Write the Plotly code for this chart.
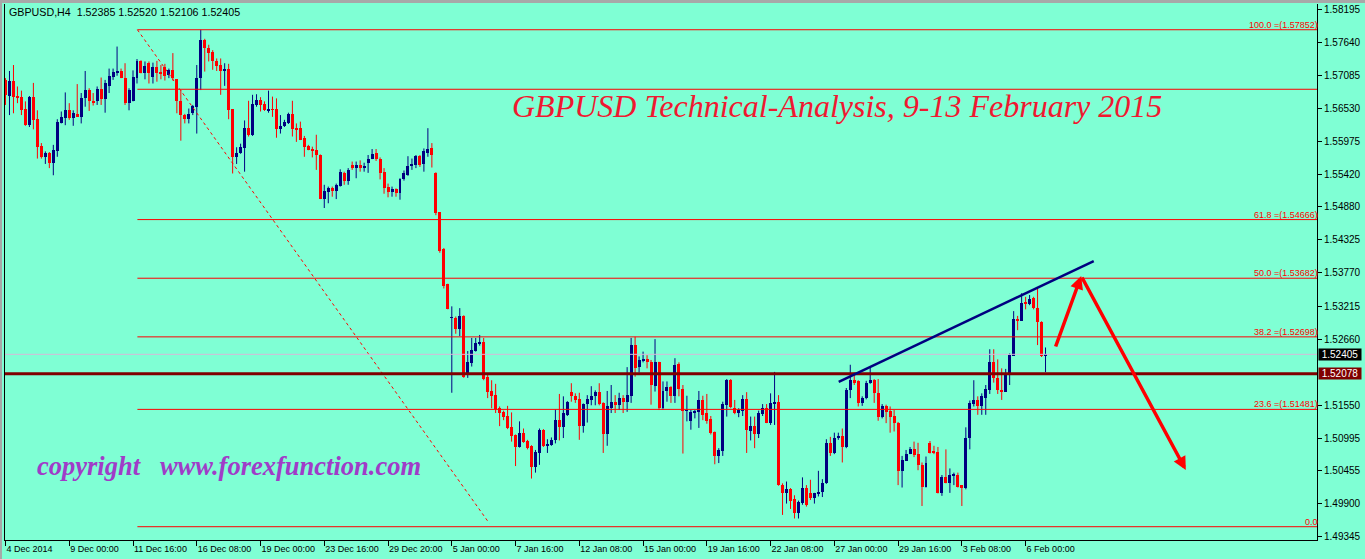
import plotly.graph_objects as go

# ---------------- data (GBPUSD H4) ----------------
opens = [1.5701,1.5674,1.5699,1.5674,1.5673,1.5652,1.5625,1.5673,1.5635,1.5590,
1.5571,1.5579,1.5562,1.5582,1.5629,1.5637,1.5650,1.5637,1.5644,1.5639,
1.5670,1.5684,1.5666,1.5665,1.5685,1.5669,1.5691,1.5706,1.5713,1.5716,
1.5705,1.5663,1.5666,1.5705,1.5732,1.5713,1.5729,1.5706,1.5723,1.5715,
1.5723,1.5709,1.5718,1.5702,1.5666,1.5642,1.5635,1.5645,1.5656,1.5704,
1.5768,1.5755,1.5748,1.5733,1.5726,1.5716,1.5719,1.5652,1.5572,1.5578,
1.5587,1.5620,1.5609,1.5659,1.5667,1.5660,1.5650,1.5652,1.5652,1.5618,
1.5624,1.5628,1.5644,1.5620,1.5620,1.5603,1.5590,1.5585,1.5583,1.5575,
1.5502,1.5513,1.5520,1.5515,1.5523,1.5544,1.5532,1.5558,1.5553,1.5558,
1.5553,1.5562,1.5569,1.5578,1.5569,1.5547,1.5522,1.5513,1.5518,1.5511,
1.5534,1.5542,1.5557,1.5558,1.5573,1.5560,1.5578,1.5586,1.5545,1.5479,
1.5417,1.5359,1.5302,1.5302,1.5283,1.5305,1.5206,1.5226,1.5246,1.5258,
1.5262,1.5203,1.5179,1.5172,1.5150,1.5144,1.5137,1.5119,1.5105,1.5085,
1.5109,1.5095,1.5086,1.5052,1.5075,1.5114,1.5087,1.5088,1.5096,1.5130,
1.5119,1.5139,1.5177,1.5171,1.5165,1.5120,1.5157,1.5164,1.5170,1.5178,
1.5159,1.5106,1.5150,1.5161,1.5156,1.5167,1.5161,1.5171,1.5256,1.5220,
1.5230,1.5232,1.5228,1.5188,1.5227,1.5151,1.5179,1.5185,1.5170,1.5224,
1.5182,1.5146,1.5129,1.5143,1.5143,1.5164,1.5142,1.5132,1.5110,1.5070,
1.5079,1.5156,1.5197,1.5150,1.5142,1.5146,1.5165,1.5112,1.5120,1.5107,
1.5141,1.5150,1.5126,1.5157,1.5160,1.5022,1.5007,1.5015,1.4997,1.4975,
1.4991,1.5016,1.5007,1.4999,1.5006,1.5010,1.5024,1.5092,1.5075,1.5100,
1.5104,1.5085,1.5181,1.5197,1.5196,1.5158,1.5167,1.5192,1.5197,1.5175,
1.5136,1.5154,1.5146,1.5137,1.5126,1.5045,1.5062,1.5073,1.5081,1.5073,
1.5055,1.5018,1.5092,1.5077,1.5077,1.5008,1.5035,1.5025,1.5037,1.5038,
1.5021,1.5016,1.5100,1.5157,1.5164,1.5153,1.5168,1.5181,1.5227,1.5200,
1.5181,1.5178,1.5205,1.5238,1.5299,1.5297,1.5327,1.5325,1.5335,1.5319,
1.5295,1.52385]
highs = [1.5704,1.5716,1.5726,1.5690,1.5683,1.5665,1.5674,1.5696,1.5650,1.5595,
1.5581,1.5580,1.5592,1.5635,1.5648,1.5680,1.5662,1.5650,1.5694,1.5679,
1.5716,1.5687,1.5679,1.5690,1.5705,1.5701,1.5720,1.5720,1.5757,1.5720,
1.5729,1.5687,1.5717,1.5736,1.5734,1.5732,1.5732,1.5730,1.5733,1.5726,
1.5728,1.5720,1.5746,1.5702,1.5684,1.5644,1.5653,1.5659,1.5726,1.57852,
1.5770,1.5760,1.5751,1.5737,1.5737,1.5729,1.5728,1.5652,1.5588,1.5594,
1.5633,1.5666,1.5676,1.5677,1.5672,1.5665,1.5683,1.5673,1.5670,1.5642,
1.5634,1.5646,1.5666,1.5628,1.5631,1.5607,1.5592,1.5589,1.5609,1.5576,
1.5525,1.5522,1.5522,1.5527,1.5551,1.5547,1.5553,1.5564,1.5564,1.5566,
1.5562,1.5575,1.5585,1.5585,1.5571,1.5553,1.5527,1.5522,1.5519,1.5536,
1.5549,1.5573,1.5569,1.5575,1.5575,1.5586,1.5620,1.5595,1.5546,1.5479,
1.5419,1.5359,1.5321,1.5304,1.5318,1.5306,1.5246,1.5268,1.5268,1.5273,
1.5268,1.5209,1.5197,1.5191,1.5153,1.5146,1.5154,1.5143,1.5106,1.5128,
1.5116,1.5097,1.5088,1.5080,1.5116,1.5115,1.5098,1.5101,1.5148,1.5174,
1.5170,1.5162,1.5192,1.5175,1.5176,1.5158,1.5172,1.5187,1.5180,1.5192,
1.5160,1.5179,1.5189,1.5172,1.5176,1.5172,1.5219,1.5268,1.5270,1.5237,
1.5245,1.5239,1.5231,1.5266,1.5228,1.5195,1.5195,1.5187,1.5234,1.5227,
1.5189,1.5171,1.5147,1.5147,1.5179,1.5171,1.5174,1.5137,1.5111,1.5083,
1.5161,1.5199,1.5199,1.5164,1.5150,1.5172,1.5177,1.5136,1.5136,1.5146,
1.5157,1.5157,1.5175,1.5211,1.5172,1.5024,1.5027,1.5016,1.5004,1.4995,
1.5034,1.5021,1.5030,1.5008,1.5045,1.5031,1.5098,1.5102,1.5109,1.5109,
1.5116,1.5184,1.5223,1.5210,1.5197,1.5170,1.5196,1.5219,1.5199,1.5199,
1.5157,1.5156,1.5153,1.5147,1.5127,1.5070,1.5080,1.5085,1.5094,1.5092,
1.5059,1.5069,1.5095,1.5087,1.5085,1.5038,1.5081,1.5049,1.5042,1.5042,
1.5021,1.5118,1.5163,1.5197,1.5170,1.5175,1.5189,1.5249,1.5249,1.5232,
1.5217,1.5216,1.5242,1.5313,1.5305,1.5343,1.5337,1.5340,1.5337,1.5353,
1.5296,1.52520]
lows = [1.5659,1.5642,1.5645,1.5662,1.5642,1.5624,1.5622,1.5618,1.5569,1.5569,
1.5560,1.5553,1.5541,1.5572,1.5628,1.5625,1.5634,1.5624,1.5639,1.5628,
1.5656,1.5649,1.5658,1.5659,1.5659,1.5646,1.5679,1.5701,1.5708,1.5704,
1.5659,1.5650,1.5665,1.5695,1.5712,1.5702,1.5695,1.5695,1.5698,1.5702,
1.5700,1.5704,1.5700,1.5645,1.5599,1.5628,1.5628,1.5642,1.5611,1.5684,
1.5715,1.5732,1.5718,1.5716,1.5676,1.5691,1.5635,1.5544,1.5560,1.5577,
1.5547,1.5606,1.5607,1.5656,1.5648,1.5649,1.5646,1.5639,1.5604,1.5611,
1.5622,1.5627,1.5606,1.5597,1.5600,1.5572,1.5583,1.5571,1.5550,1.5501,
1.5486,1.5494,1.5505,1.5501,1.5522,1.5525,1.5525,1.5550,1.5536,1.5547,
1.5547,1.5545,1.5568,1.5565,1.5534,1.5510,1.5504,1.5505,1.5505,1.5500,
1.5532,1.5540,1.5550,1.5553,1.5555,1.5547,1.5572,1.5554,1.5474,1.5411,
1.5351,1.5316,1.5176,1.5275,1.5271,1.5201,1.5201,1.5220,1.5245,1.5255,
1.5197,1.5167,1.5150,1.5142,1.5120,1.5130,1.5115,1.5094,1.5053,1.5084,
1.5092,1.5081,1.5032,1.5042,1.5055,1.5085,1.5075,1.5087,1.5091,1.5096,
1.5100,1.5137,1.5161,1.5159,1.5097,1.5109,1.5126,1.5155,1.5155,1.5155,
1.5075,1.5087,1.5142,1.5142,1.5147,1.5142,1.5144,1.5159,1.5203,1.5210,
1.5227,1.5217,1.5156,1.5178,1.5147,1.5148,1.5161,1.5159,1.5159,1.5170,
1.5074,1.5128,1.5114,1.5133,1.5117,1.5130,1.5124,1.5106,1.5056,1.5058,
1.5070,1.5136,1.5150,1.5140,1.5135,1.5137,1.5075,1.5096,1.5083,1.5100,
1.5137,1.5125,1.5122,1.5122,1.5020,1.4971,1.4990,1.4981,1.4965,1.4965,
1.4988,1.4985,1.4996,1.4990,1.5002,1.5001,1.5023,1.5070,1.5073,1.5097,
1.5059,1.5083,1.5167,1.5189,1.5153,1.5154,1.5165,1.5191,1.5159,1.5129,
1.5133,1.5125,1.5109,1.5111,1.5021,1.5017,1.5062,1.5073,1.5068,1.5046,
1.4986,1.5017,1.5074,1.5073,1.5007,1.5003,1.5024,1.5008,1.5021,1.5017,
1.4986,1.5014,1.5081,1.5153,1.5139,1.5139,1.5139,1.5174,1.5193,1.5174,
1.5164,1.5178,1.5189,1.5238,1.5281,1.5297,1.5316,1.5323,1.5316,1.5256,
1.5236,1.52106]
closes = [1.5676,1.5699,1.5673,1.5672,1.5650,1.5625,1.5673,1.5634,1.5589,1.5572,
1.5579,1.5562,1.5583,1.5631,1.5638,1.5650,1.5637,1.5646,1.5639,1.5670,
1.5684,1.5665,1.5663,1.5685,1.5669,1.5695,1.5708,1.5715,1.5716,1.5705,
1.5663,1.5684,1.5706,1.5732,1.5713,1.5724,1.5712,1.5723,1.5712,1.5711,
1.5708,1.5718,1.5704,1.5665,1.5642,1.5635,1.5644,1.5657,1.5704,1.5768,
1.5754,1.5747,1.5732,1.5724,1.5716,1.5719,1.5650,1.5571,1.5579,1.5588,
1.5620,1.5609,1.5661,1.5667,1.5659,1.5650,1.5652,1.5651,1.5618,1.5624,
1.5631,1.5644,1.5618,1.5618,1.5601,1.5588,1.5583,1.5582,1.5575,1.5502,
1.5515,1.5520,1.5515,1.5525,1.5546,1.5532,1.5550,1.5553,1.5558,1.5553,
1.5557,1.5569,1.5577,1.5569,1.5545,1.5520,1.5513,1.5518,1.5511,1.5534,
1.5544,1.5557,1.5560,1.5573,1.5558,1.5581,1.5585,1.5575,1.5477,1.5414,
1.5355,1.5317,1.5303,1.5283,1.5305,1.5203,1.5227,1.5248,1.5259,1.5262,
1.5199,1.5178,1.5170,1.5149,1.5142,1.5135,1.5117,1.5104,1.5085,1.5109,
1.5094,1.5084,1.5052,1.5077,1.5114,1.5087,1.5090,1.5097,1.5130,1.5119,
1.5142,1.5160,1.5170,1.5164,1.5120,1.5157,1.5165,1.5170,1.5178,1.5157,
1.5106,1.5154,1.5161,1.5156,1.5167,1.5161,1.5172,1.5256,1.5218,1.5231,
1.5232,1.5228,1.5189,1.5228,1.5150,1.5179,1.5185,1.5170,1.5223,1.5182,
1.5146,1.5147,1.5144,1.5144,1.5164,1.5139,1.5129,1.5109,1.5070,1.5080,
1.5157,1.5197,1.5152,1.5142,1.5147,1.5165,1.5114,1.5120,1.5107,1.5142,
1.5150,1.5126,1.5158,1.5161,1.5021,1.5007,1.5015,1.4995,1.4975,1.4992,
1.5016,1.4988,1.4999,1.5007,1.5010,1.5024,1.5092,1.5075,1.5100,1.5104,
1.5085,1.5181,1.5197,1.5194,1.5158,1.5167,1.5192,1.5197,1.5175,1.5136,
1.5153,1.5144,1.5136,1.5126,1.5045,1.5063,1.5074,1.5081,1.5072,1.5055,
1.5018,1.5058,1.5075,1.5075,1.5008,1.5035,1.5025,1.5038,1.5038,1.5018,
1.5017,1.5100,1.5158,1.5164,1.5153,1.5170,1.5182,1.5227,1.5200,1.5181,
1.5178,1.5208,1.5240,1.5299,1.5297,1.5327,1.5325,1.5334,1.5318,1.5294,
1.5238,1.52405]
bar_index = list(range(len(opens)))

tick_bars = [0, 16, 32, 48, 64, 80, 96, 112, 128, 144, 160, 176, 192, 208, 224, 240, 256]
tick_labels = ["4 Dec 2014", "9 Dec 00:00", "11 Dec 16:00", "16 Dec 08:00", "19 Dec 00:00",
               "23 Dec 16:00", "29 Dec 20:00", "5 Jan 00:00", "7 Jan 16:00", "12 Jan 08:00",
               "15 Jan 00:00", "19 Jan 16:00", "22 Jan 08:00", "27 Jan 00:00", "29 Jan 16:00",
               "3 Feb 08:00", "6 Feb 00:00"]

price_ticks = [1.58195, 1.57640, 1.57085, 1.56530, 1.55975, 1.55420, 1.54880, 1.54325,
               1.53770, 1.53215, 1.52660, 1.51550, 1.50995, 1.50455, 1.49900, 1.49345]
price_tick_labels = ["%.5f" % v for v in price_ticks]

fib_levels = [1.57852, 1.56853, 1.54666, 1.53682, 1.52698, 1.51481, 1.49512]
fib_labels = ["100.0 =(1.57852)", "", "61.8 =(1.54666)", "50.0 =(1.53682)",
              "38.2 =(1.52698)", "23.6 =(1.51481)", "0.0"]
fib_start_bar = 33.1
fib_diag_bars = [33.1, 121.4]
fib_diag_prices = [1.57852, 1.49570]

bid_price = 1.52405
level_price = 1.52078

trend_bars = [209.1, 273.1]
trend_prices = [1.51941, 1.53971]

arrow_up_tail = (263.4, 1.52511)
arrow_apex = (269.95, 1.53719)
arrow_down_tip = (296.2, 1.50464)

x_range = [-0.125, 329.125]
y_range = [1.49289, 1.58284]

header_text = "GBPUSD,H4\u00a0\u00a01.52385 1.52520 1.52106 1.52405"
title_text = "GBPUSD Technical-Analysis, 9-13 February 2015"
copyright_text = "copyright\u00a0\u00a0\u00a0www.forexfunction.com"

# ---------------- styling ----------------
BG = "#7fffd4"
BULL = "#000080"
BEAR = "#ff0000"
FIB = "#ff0000"

fig = go.Figure()

bull_x, bull_y, bear_x, bear_y = [], [], [], []
body_base, body_h, body_col = [], [], []
for i, o, h, l, c in zip(bar_index, opens, highs, lows, closes):
    up = c >= o
    (bull_x if up else bear_x).extend([i, i, None])
    (bull_y if up else bear_y).extend([l, h, None])
    body_base.append(min(o, c))
    body_h.append(max(abs(c - o), 0.00003))
    body_col.append(BULL if up else BEAR)

fig.add_trace(go.Scatter(x=bull_x, y=bull_y, mode="lines", line=dict(color=BULL, width=1),
                         hoverinfo="skip"))
fig.add_trace(go.Scatter(x=bear_x, y=bear_y, mode="lines", line=dict(color=BEAR, width=1),
                         hoverinfo="skip"))
fig.add_trace(go.Bar(x=bar_index, y=body_h, base=body_base, width=0.75,
                     marker=dict(color=body_col, line=dict(width=0)), hoverinfo="skip"))

shapes = []
# fibonacci levels
for lv in fib_levels:
    shapes.append(dict(type="line", xref="x", yref="y", x0=fib_start_bar, x1=x_range[1],
                       y0=lv, y1=lv, line=dict(color=FIB, width=1)))
# fib diagonal
shapes.append(dict(type="line", xref="x", yref="y", x0=fib_diag_bars[0], x1=fib_diag_bars[1],
                   y0=fib_diag_prices[0], y1=fib_diag_prices[1],
                   line=dict(color=FIB, width=1, dash="dot")))
# bid line and horizontal level
shapes.append(dict(type="line", xref="paper", yref="y", x0=0, x1=1, y0=bid_price, y1=bid_price,
                   line=dict(color="#d8b8d8", width=1)))
shapes.append(dict(type="line", xref="paper", yref="y", x0=0, x1=1, y0=level_price, y1=level_price,
                   line=dict(color="#800000", width=3)))
# trend line
shapes.append(dict(type="line", xref="x", yref="y", x0=trend_bars[0], x1=trend_bars[1],
                   y0=trend_prices[0], y1=trend_prices[1], line=dict(color=BULL, width=2.5)))
# window border (gray)
shapes.append(dict(type="rect", xref="paper", yref="paper", x0=-0.01, x1=1.04,
                   y0=1.0019, y1=1.01, fillcolor="#a8a8a8", line=dict(width=0)))
shapes.append(dict(type="rect", xref="paper", yref="paper", x0=-0.01, x1=-0.0023,
                   y0=-0.05, y1=1.01, fillcolor="#a8a8a8", line=dict(width=0)))

annotations = []
for lv, txt in zip(fib_levels, fib_labels):
    if txt:
        annotations.append(dict(xref="paper", yref="y", x=1, y=lv, xanchor="right",
                                yanchor="bottom", text=txt, showarrow=False, yshift=-2, xshift=3,
                                font=dict(family="Liberation Sans", size=9, color=FIB)))
annotations.append(dict(xref="paper", yref="y", x=1, y=bid_price, xanchor="left", yanchor="middle",
                        xshift=1, text="%.5f" % bid_price, showarrow=False, bgcolor="#000000",
                        width=42, height=11, borderpad=0,
                        font=dict(family="Liberation Sans", size=10, color="#ffffff")))
annotations.append(dict(xref="paper", yref="y", x=1, y=level_price, xanchor="left", yanchor="middle",
                        xshift=1, text="%.5f" % level_price, showarrow=False, bgcolor="#800000",
                        width=42, height=11, borderpad=0,
                        font=dict(family="Liberation Sans", size=10, color="#ffffff")))
annotations.append(dict(xref="paper", yref="paper", x=0.0015, y=0.9851, xanchor="left",
                        yanchor="middle", text=header_text, showarrow=False,
                        font=dict(family="Liberation Sans", size=10.7, color="#000000")))
annotations.append(dict(xref="paper", yref="paper", x=0.634, y=0.8097, xanchor="center",
                        yanchor="middle", text="<i>" + title_text + "</i>", showarrow=False,
                        font=dict(family="Liberation Serif", size=32, color="#f01830")))
annotations.append(dict(xref="paper", yref="paper", x=0.0228, y=0.1381, xanchor="left",
                        yanchor="middle", text="<b><i>" + copyright_text + "</i></b>", showarrow=False,
                        font=dict(family="Liberation Serif", size=26.5, color="#a03cc8")))
for tip, tail in [(arrow_apex, arrow_up_tail), (arrow_down_tip, arrow_apex)]:
    annotations.append(dict(xref="x", yref="y", axref="x", ayref="y", x=tip[0], y=tip[1],
                            ax=tail[0], ay=tail[1], text="", showarrow=True, arrowhead=2,
                            arrowwidth=3.5, arrowsize=0.75, arrowcolor="#ff0000", standoff=0))

fig.update_layout(
    width=1365, height=559,
    margin=dict(l=4, r=44, t=4, b=19, pad=0),
    paper_bgcolor=BG, plot_bgcolor=BG,
    showlegend=False, bargap=0,
    shapes=shapes, annotations=annotations,
    xaxis=dict(range=x_range, tickvals=tick_bars, ticktext=tick_labels, ticks="outside",
               ticklen=5, tickcolor="#000000", showline=True, linecolor="#000000", linewidth=1,
               showgrid=False, zeroline=False, ticklabelposition="outside right",
               tickfont=dict(family="Liberation Sans", size=9, color="#000000")),
    yaxis=dict(range=y_range, side="right", tickvals=price_ticks, ticktext=price_tick_labels,
               ticks="outside", ticklen=4, tickcolor="#000000", showline=True, mirror=True,
               linecolor="#000000", linewidth=1, showgrid=False, zeroline=False,
               tickfont=dict(family="Liberation Sans", size=10, color="#000000")),
)

fig.write_html("out.html", config={"displayModeBar": False},
               post_script="document.body.style.margin='0';document.body.style.overflow='hidden';")
